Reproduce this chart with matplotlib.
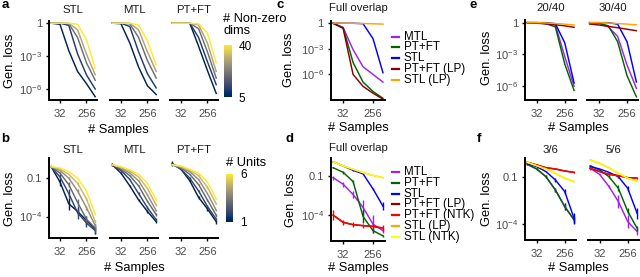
import numpy as np
import matplotlib as mpl
import matplotlib.pyplot as plt
from matplotlib.lines import Line2D

plt.rcParams['font.family'] = ['Liberation Sans', 'DejaVu Sans']
plt.rcParams['mathtext.fontset'] = 'custom'
plt.rcParams['mathtext.rm'] = 'Liberation Sans'
plt.rcParams['mathtext.default'] = 'regular'

W, H = 640, 277
GREY = '#4D4D4D'

# sample sizes on the x axis of every panel
samples = [16, 32, 64, 128, 256, 512]

# all losses below are log10(generalization loss)

# a: number of non-zero dims
dims = [5, 10, 20, 30, 40]
a_stl = [[0, -0.1, -2.5, -4.4, -5.5, -6.7],
         [0, 0, -0.2, -2.8, -4.7, -6.0],
         [0, 0, -0.05, -1.3, -3.6, -5.2],
         [0, 0, 0, -0.6, -2.8, -4.7],
         [0, 0, 0, -0.1, -1.5, -4.1]]
a_mtl = [[0, -0.05, -1.8, -4.0, -5.7, -6.5],
         [0, 0, -0.3, -2.6, -4.6, -5.9],
         [0, 0, -0.05, -1.3, -3.4, -5.0],
         [0, 0, 0, -0.6, -2.6, -4.4],
         [0, 0, 0, -0.15, -1.6, -3.8]]
a_ptft = [[0, 0, 0, -2.1, -4.3, -6.4],
          [0, 0, 0, -1.3, -3.5, -5.6],
          [0, 0, 0, -0.5, -2.6, -5.0],
          [0, 0, 0, -0.15, -1.8, -4.4],
          [0, 0, 0, -0.05, -0.9, -3.6]]

# b: number of units
units = [1, 2, 3, 4, 5, 6]
b_stl = [[-0.1, -1.3, -3.0, -3.6, -4.3, -5.0],
         [-0.1, -0.9, -2.2, -3.7, -4.5, -5.1],
         [-0.1, -0.6, -1.5, -2.9, -4.2, -4.9],
         [-0.1, -0.4, -1.0, -2.0, -3.3, -4.7],
         [-0.1, -0.3, -0.7, -1.4, -2.6, -4.4],
         [-0.1, -0.2, -0.5, -1.0, -2.0, -3.8]]
b_stl_err = [[0, 0.3, 0.45, 0.3, 0.35, 0.4],
             [0, 0.2, 0.35, 0.5, 0.3, 0.3],
             [0, 0.1, 0.2, 0.3, 0.25, 0.2],
             [0, 0.05, 0.1, 0.15, 0.15, 0.15],
             [0, 0.05, 0.05, 0.1, 0.1, 0.1],
             [0, 0.03, 0.05, 0.05, 0.05, 0.1]]
b_mtl = [[0.05, -0.6, -1.6, -2.7, -3.6, -4.4],
         [0.05, -0.4, -1.1, -2.2, -3.3, -4.25],
         [0.05, -0.3, -0.8, -1.6, -2.8, -3.85],
         [0.05, -0.2, -0.6, -1.2, -2.3, -3.55],
         [0.05, -0.15, -0.45, -0.9, -1.8, -3.1],
         [0.05, -0.1, -0.35, -0.7, -1.4, -2.7]]
b_mtl_err = [[0.1, 0.05, 0.1, 0.1, 0.1, 0.1],
             [0, 0.05, 0.05, 0.1, 0.1, 0.1],
             [0, 0.03, 0.05, 0.05, 0.05, 0.1],
             [0, 0.03, 0.03, 0.05, 0.05, 0.05],
             [0, 0.03, 0.03, 0.03, 0.05, 0.05],
             [0, 0.03, 0.03, 0.03, 0.03, 0.05]]
b_ptft = [[0.15, -0.3, -1.2, -2.5, -3.4, -4.4],
          [0.1, -0.3, -1.0, -2.0, -3.2, -4.2],
          [0.05, -0.2, -0.7, -1.5, -2.7, -3.9],
          [0.05, -0.15, -0.5, -1.1, -2.2, -3.5],
          [0.05, -0.1, -0.4, -0.8, -1.7, -3.0],
          [0.05, -0.05, -0.3, -0.6, -1.3, -2.6]]
b_ptft_err = [[0.2, 0.1, 0.1, 0.1, 0.15, 0.15],
              [0.1, 0.05, 0.1, 0.1, 0.1, 0.1],
              [0, 0.05, 0.05, 0.05, 0.1, 0.1],
              [0, 0.03, 0.05, 0.05, 0.05, 0.05],
              [0, 0.03, 0.03, 0.03, 0.05, 0.05],
              [0, 0.03, 0.03, 0.03, 0.03, 0.05]]

# c: full overlap, non-zero dims task
c_labels = ['MTL', 'PT+FT', 'STL', 'PT+FT (LP)', 'STL (LP)']
c_mtl = [0, -0.5, -3.1, -5.1, -6.0, -6.9]
c_ptft = [0, -0.5, -4.6, -6.9, -8.0, -8.8]
c_stl = [0, 0, 0, -0.05, -1.8, -5.8]
c_ptft_lp = [0, -0.6, -6.0, -7.4, -8.2, -8.9]
c_stl_lp = [0.02, 0.01, 0, -0.03, -0.06, -0.1]

# d: full overlap, units task
d_labels = ['MTL', 'PT+FT', 'STL', 'PT+FT (LP)', 'PT+FT (NTK)', 'STL (LP)', 'STL (NTK)']
d_mtl = [-1.1, -1.6, -2.4, -3.4, -4.7, -5.2]
d_mtl_err = [0.15, 0.2, 0.25, 0.6, 0.7, 0.2]
d_ptft = [-0.33, -0.68, -1.4, -4.1, -5.2, -5.6]
d_ptft_err = [0.05, 0.1, 0.1, 0.5, 0.2, 0.1]
d_stl = [0.13, -0.19, -0.53, -0.8, -1.97, -3.3]
d_stl_err = [0.02, 0.03, 0.05, 0.05, 0.1, 0.3]
d_ptft_lp = [-4.0, -4.55, -4.74, -4.81, -4.87, -5.0]
d_ptft_ntk = [-4.0, -4.55, -4.74, -4.81, -4.87, -5.0]
d_ptft_ntk_err = [0.4, 0.2, 0.2, 0.15, 0.15, 0.2]
d_stl_lp = [0.13, -0.19, -0.45, -0.71, -0.92, -1.1]
d_stl_ntk = [0.13, -0.19, -0.45, -0.71, -0.92, -1.1]

# e: partial overlap (20/40 and 30/40)
e_titles = ['20/40', '30/40']
e_mtl = [[0, 0, -0.05, -0.2, -3.2, -6.0], [0, -0.05, -0.4, -1.3, -4.0, -6.2]]
e_ptft = [[0, 0, -0.1, -0.4, -3.9, -6.4], [0, -0.05, -0.3, -1.8, -5.0, -7.0]]
e_stl = [[0, 0, 0, -0.1, -1.9, -5.7], [0, 0, 0, -0.15, -1.8, -5.6]]
e_ptft_lp = [[0, -0.05, -0.12, -0.2, -0.3, -0.44], [-0.13, -0.22, -0.35, -0.48, -0.62, -0.76]]
e_stl_lp = [[0, 0, -0.03, -0.08, -0.14, -0.22], [0, 0, -0.03, -0.08, -0.14, -0.2]]

# f: partial overlap (3/6 and 5/6)
f_titles = ['3/6', '5/6']
f_mtl = [[-0.16, -0.46, -0.96, -1.82, -2.89, -3.75], [-0.42, -0.81, -1.6, -2.57, -3.86, -4.5]]
f_mtl_err = [[0.03, 0.05, 0.1, 0.15, 0.2, 0.2], [0.05, 0.05, 0.1, 0.4, 0.4, 0.2]]
f_ptft = [[-0.16, -0.46, -0.96, -1.82, -2.89, -3.75], [-0.25, -0.53, -0.96, -1.71, -3.2, -4.29]]
f_ptft_err = [[0.03, 0.05, 0.1, 0.15, 0.2, 0.2], [0.05, 0.05, 0.1, 0.2, 0.2, 0.15]]
f_stl = [[-0.1, -0.31, -0.63, -1.17, -1.92, -3.65], [-0.31, -0.46, -0.68, -0.96, -1.71, -3.32]]
f_stl_err = [[0.02, 0.03, 0.05, 0.1, 0.15, 0.35], [0.02, 0.03, 0.05, 0.1, 0.15, 0.35]]
f_ptft_lp = [[-0.03, -0.2, -0.38, -0.46, -0.59, -0.68], [-0.42, -0.63, -0.81, -0.89, -1.02, -1.06]]
f_ptft_ntk = [[-0.03, -0.2, -0.38, -0.46, -0.59, -0.68], [-0.42, -0.63, -0.81, -0.89, -1.02, -1.06]]
f_ptft_ntk_err = [[0.03, 0.03, 0.03, 0.03, 0.03, 0.03], [0.1, 0.05, 0.05, 0.05, 0.05, 0.05]]
f_stl_lp = [[-0.03, -0.25, -0.46, -0.74, -1.06, -1.28], [0.12, -0.1, -0.38, -0.74, -1.06, -1.24]]
f_stl_ntk = [[-0.03, -0.25, -0.46, -0.74, -1.06, -1.28], [0.12, -0.1, -0.38, -0.74, -1.06, -1.24]]

method_colors = {'MTL': '#A020F0', 'PT+FT': '#006400', 'STL': '#0000FF',
                 'PT+FT (LP)': '#8B0000', 'PT+FT (NTK)': '#FF0000',
                 'STL (LP)': '#FFA500', 'STL (NTK)': '#FFFF00'}

fig = plt.figure(figsize=(W / 100, H / 100), dpi=100)


def box(l, t, r, b):
    return [l / W, 1 - b / H, (r - l) / W, (b - t) / H]


def text(x, y, s, **kw):
    kw.setdefault('ha', 'center')
    kw.setdefault('va', 'center')
    fig.text(x / W, 1 - y / H, s, **kw)


def setup(ax, ylim, yticks, ylabels, first=True):
    ax.set_xscale('log', base=2)
    ax.set_yscale('log')
    ax.set_xlim(13.5, 590)
    ax.set_ylim(10.0 ** ylim[0], 10.0 ** ylim[1])
    ax.set_xticks([32, 256], ['32', '256'])
    ax.set_yticks([10.0 ** v for v in yticks], ylabels)
    ax.minorticks_off()
    ax.patch.set_alpha(0)
    for s in ['top', 'right']:
        ax.spines[s].set_visible(False)
    ax.spines['left'].set_visible(first)
    for s in ['left', 'bottom']:
        ax.spines[s].set_linewidth(1.4)
    ax.tick_params(length=2.5, width=1.0, labelsize=8, labelcolor=GREY)
    ax.tick_params(axis='x', pad=4.0)
    ax.tick_params(axis='y', pad=2.5)
    if not first:
        ax.tick_params(axis='y', left=False, labelleft=False)


def curve(ax, y, color, err=None):
    y = np.array(y)
    ax.plot(samples, 10.0 ** y, color=color, lw=1.05)
    if err is not None:
        e = np.array(err)
        m = e > 0
        ax.vlines(np.array(samples)[m], 10.0 ** (y - e)[m], 10.0 ** (y + e)[m],
                  color=color, lw=1.0)


def legend(names, y0, dy):
    for i, n in enumerate(names):
        y = 1 - (y0 + i * dy) / H
        fig.add_artist(Line2D([392 / W, 399 / W], [y, y], color=method_colors[n], lw=1.6))
        text(404, y0 + i * dy, n, ha='left', fontsize=8.4)


cmap = plt.get_cmap('cividis')
sub_left = [49, 110, 170]
sub_titles = ['STL', 'MTL', 'PT+FT']
STRIP = 8.2

# ---- panel a ----
norm_a = mpl.colors.Normalize(min(dims), max(dims))
for k, data in enumerate([a_stl, a_mtl, a_ptft]):
    ax = fig.add_axes(box(sub_left[k], 21, sub_left[k] + 48, 100))
    setup(ax, (-7.0, 0.2), [0, -3, -6], ['1', '$10^{-3}$', '$10^{-6}$'], k == 0)
    for d, y in zip(dims, data):
        curve(ax, y, cmap(norm_a(d)))
    text(sub_left[k] + 24, 10, sub_titles[k], fontsize=STRIP, color='#1A1A1A')
cax = fig.add_axes(box(224, 45, 232, 97))
cb = fig.colorbar(mpl.cm.ScalarMappable(norm_a, cmap), cax=cax, ticks=[5, 40])
cb.outline.set_visible(False)
cax.tick_params(length=0, labelsize=8.5, pad=5)
text(223, 25, '# Non-zero\ndims', ha='left', fontsize=9.3, linespacing=1.05)
text(10, 61, 'Gen. loss', rotation=90, fontsize=9.3)
text(118, 130, '# Samples', fontsize=9.3)
text(5, 5, 'a', fontsize=9.5, fontweight='bold')

# ---- panel b ----
norm_b = mpl.colors.Normalize(min(units), max(units))
for k, (data, errs) in enumerate([(b_stl, b_stl_err), (b_mtl, b_mtl_err), (b_ptft, b_ptft_err)]):
    ax = fig.add_axes(box(sub_left[k], 157.7, sub_left[k] + 48, 238.3))
    setup(ax, (-5.7, 0.6), [-1, -4], ['0.1', '$10^{-4}$'], k == 0)
    for u, y, e in zip(units, data, errs):
        curve(ax, y, cmap(norm_b(u)), e)
    text(sub_left[k] + 24, 150, sub_titles[k], fontsize=STRIP, color='#1A1A1A')
cax = fig.add_axes(box(226, 174, 233, 222))
cb = fig.colorbar(mpl.cm.ScalarMappable(norm_b, cmap), cax=cax, ticks=[1, 6])
cb.outline.set_visible(False)
cax.tick_params(length=0, labelsize=8.5, pad=5)
text(226, 163, '# Units', ha='left', fontsize=9.3)
text(10, 199, 'Gen. loss', rotation=90, fontsize=9.3)
text(134, 268, '# Samples', fontsize=9.3)
text(5, 139, 'b', fontsize=9.5, fontweight='bold')

# ---- panel c ----
ax = fig.add_axes(box(330.7, 20.7, 385, 100))
setup(ax, (-9.0, 0.3), [0, -3, -6], ['1', '$10^{-3}$', '$10^{-6}$'])
for n, y in zip(c_labels, [c_mtl, c_ptft, c_stl, c_ptft_lp, c_stl_lp]):
    curve(ax, y, method_colors[n])
text(358, 8, 'Full overlap', fontsize=STRIP, color='#1A1A1A')
legend(c_labels, 36.5, 10.9)
text(289, 60, 'Gen. loss', rotation=90, fontsize=9.3)
text(358, 128, '# Samples', fontsize=9.3)
text(280, 5, 'c', fontsize=9.5, fontweight='bold')

# ---- panel d ----
ax = fig.add_axes(box(330.7, 158.3, 385, 241))
setup(ax, (-6.0, 0.4), [-1, -4], ['0.1', '$10^{-4}$'])
d_curves = [(d_mtl, d_mtl_err), (d_ptft, d_ptft_err), (d_stl, d_stl_err), (d_ptft_lp, None),
            (d_ptft_ntk, d_ptft_ntk_err), (d_stl_lp, None), (d_stl_ntk, None)]
for n, (y, e) in zip(d_labels, d_curves):
    curve(ax, y, method_colors[n], e)
text(358, 148, 'Full overlap', fontsize=STRIP, color='#1A1A1A')
legend(d_labels, 172, 10.8)
text(291, 200, 'Gen. loss', rotation=90, fontsize=9.3)
text(358, 268, '# Samples', fontsize=9.3)
text(289, 139, 'd', fontsize=9.5, fontweight='bold')

# ---- panel e ----
e_left = [525, 587.3]
for k in range(2):
    ax = fig.add_axes(box(e_left[k], 20, e_left[k] + 51, 100))
    setup(ax, (-7.3, 0.25), [0, -3, -6], ['1', '$10^{-3}$', '$10^{-6}$'], k == 0)
    for n, y in zip(c_labels, [e_mtl[k], e_ptft[k], e_stl[k], e_ptft_lp[k], e_stl_lp[k]]):
        curve(ax, y, method_colors[n])
    text(e_left[k] + 25.5, 8, e_titles[k], fontsize=STRIP, color='#1A1A1A')
text(487, 58, 'Gen. loss', rotation=90, fontsize=9.3)
text(578, 128, '# Samples', fontsize=9.3)
text(473, 5, 'e', fontsize=9.5, fontweight='bold')

# ---- panel f ----
f_left = [525, 588]
for k in range(2):
    ax = fig.add_axes(box(f_left[k], 158.3, f_left[k] + 51, 240))
    setup(ax, (-5.05, 0.23), [-1, -4], ['0.1', '$10^{-4}$'], k == 0)
    f_curves = [(f_mtl[k], f_mtl_err[k]), (f_ptft[k], f_ptft_err[k]), (f_stl[k], f_stl_err[k]),
                (f_ptft_lp[k], None), (f_ptft_ntk[k], f_ptft_ntk_err[k]),
                (f_stl_lp[k], None), (f_stl_ntk[k], None)]
    for n, (y, e) in zip(d_labels, f_curves):
        curve(ax, y, method_colors[n], e)
    text(f_left[k] + 25.5, 150, f_titles[k], fontsize=STRIP, color='#1A1A1A')
text(487, 199, 'Gen. loss', rotation=90, fontsize=9.3)
text(578, 268, '# Samples', fontsize=9.3)
text(479, 139, 'f', fontsize=9.5, fontweight='bold')

fig.savefig('out.png', dpi=100)
